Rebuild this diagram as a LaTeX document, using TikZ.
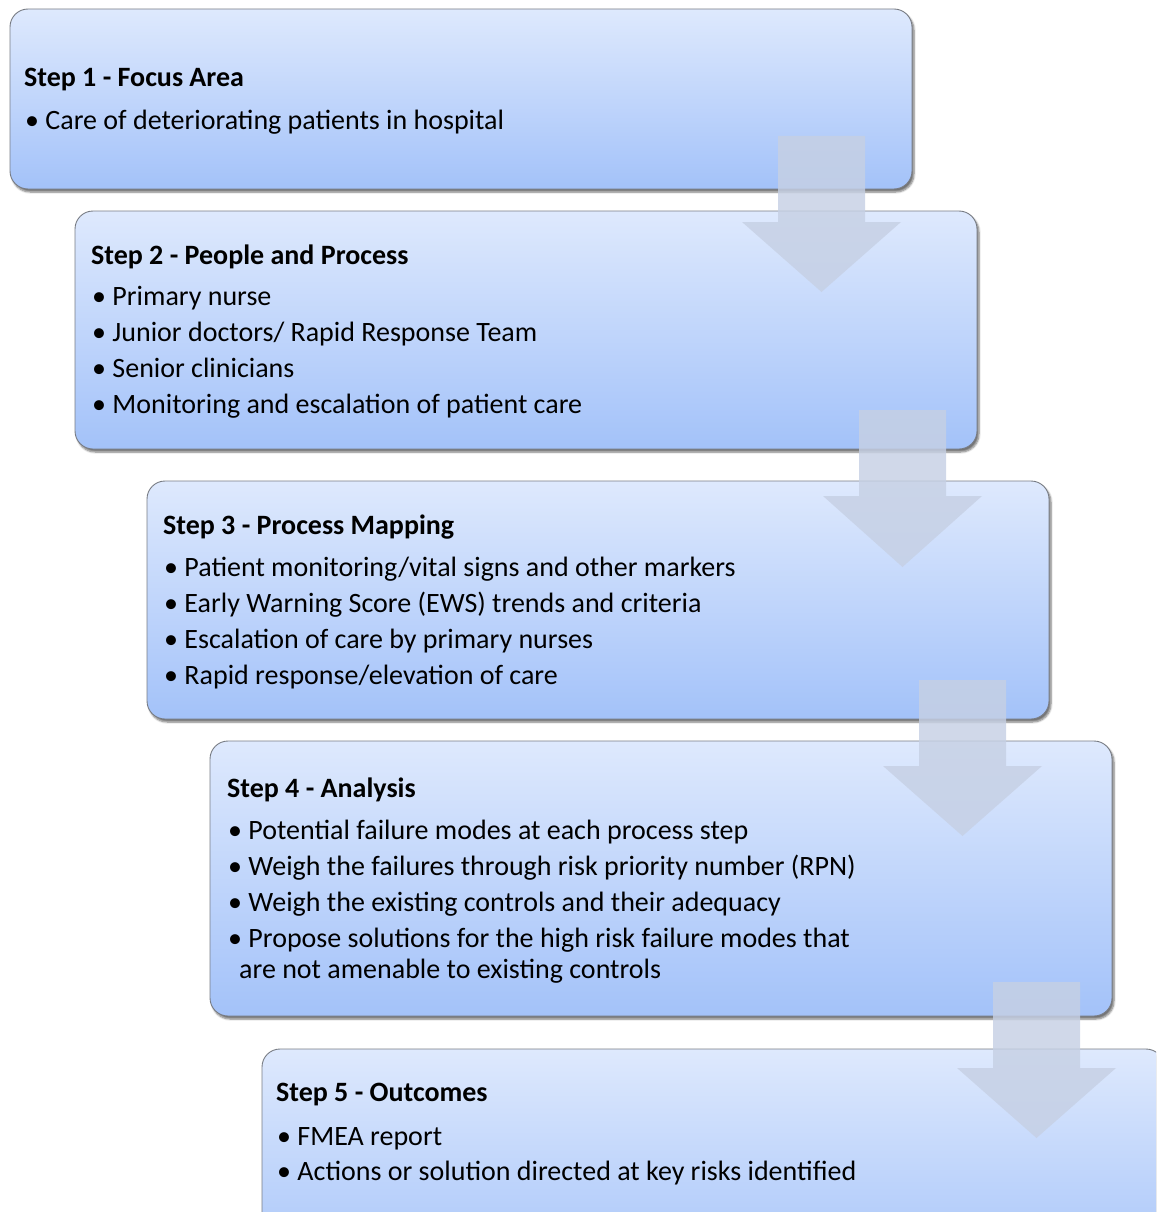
\documentclass[tikz,border=0pt]{standalone}
\usepackage{fontspec}
\setmainfont{Carlito}
\usetikzlibrary{shadows.blur}
\definecolor{boxtop}{RGB}{222,233,253}
\definecolor{boxbot}{RGB}{163,194,249}
\definecolor{boxline}{RGB}{120,124,132}
\definecolor{arrowfill}{RGB}{198,208,228}
\tikzset{
  stepbox/.style={draw=boxline, line width=0.9pt, rounded corners=18pt,
    top color=boxtop, bottom color=boxbot,
    blur shadow={shadow xshift=2pt, shadow yshift=-3pt, shadow blur steps=6,
      shadow blur extra rounding=2pt, shadow opacity=55}},
  flowarrow/.style={fill=arrowfill, fill opacity=0.82, draw=none},
  head/.style={anchor=base west, inner sep=0pt, font=\fontsize{28}{33}\selectfont\bfseries},
  item/.style={anchor=base west, inner sep=0pt, font=\fontsize{28}{33}\selectfont, align=left}
}
\newcommand{\blockarrow}[7]{%
  % #1 shaft left, #2 shaft right, #3 shaft top, #4 head y, #5 head left, #6 head right, #7 tip y
  \fill[flowarrow] (#1,#3) -- (#2,#3) -- (#2,#4) -- (#6,#4)
    -- ({(#5+#6)/2},#7) -- (#5,#4) -- (#1,#4) -- cycle;}
\begin{document}
\begin{tikzpicture}[x=1pt,y=-1pt]
\useasboundingbox (0,0) rectangle (1156,1212);
\clip (0,0) rectangle (1156,1212);

% step boxes
\path[stepbox] (10,9) rectangle (912,189);
\path[stepbox] (75,211) rectangle (977,449);
\path[stepbox] (147,481) rectangle (1049,719);
\path[stepbox] (210,741) rectangle (1112,1016);
\path[stepbox] (262,1049) rectangle (1164,1290);

% flow arrows between the steps
\blockarrow{778}{865}{136}{222}{742}{901}{292}
\blockarrow{859}{946}{410}{496}{823}{982}{567}
\blockarrow{919}{1006}{680}{766}{883}{1042}{836}
\blockarrow{993}{1080}{982}{1068}{957}{1116}{1138}

% Step 1
\node[head] (h1) at (24,87) {Step 1 - Focus Area};
\node[item] (a1) at (25,129) {• Care of deteriorating patients in hospital};

% Step 2
\node[head] (h2) at (91,264) {Step 2 - People and Process};
\node[item] (b1) at (92,305) {• Primary nurse};
\node[item] (b2) at (92,341) {• Junior doctors/ Rapid Response Team};
\node[item] (b3) at (92,377) {• Senior clinicians};
\node[item] (b4) at (92,413) {• Monitoring and escalation of patient care};

% Step 3
\node[head] (h3) at (163,534) {Step 3 - Process Mapping};
\node[item] (c1) at (164,576) {• Patient monitoring/vital signs and other markers};
\node[item] (c2) at (164,612) {• Early Warning Score (EWS) trends and criteria};
\node[item] (c3) at (164,648) {• Escalation of care by primary nurses};
\node[item] (c4) at (164,684) {• Rapid response/elevation of care};

% Step 4
\node[head] (h4) at (227,797) {Step 4 - Analysis};
\node[item] (d1) at (228,839) {• Potential failure modes at each process step};
\node[item] (d2) at (228,875) {• Weigh the failures through risk priority number (RPN)};
\node[item] (d3) at (228,911) {• Weigh the existing controls and their adequacy};
\node[item] (d4) at (228,947) {• Propose solutions for the high risk failure modes that};
\node[item] (d5) at (239,978) {are not amenable to existing controls};

% Step 5
\node[head] (h5) at (276,1101) {Step 5 - Outcomes};
\node[item] (e1) at (277,1145) {• FMEA report};
\node[item] (e2) at (277,1180) {• Actions or solution directed at key risks identified};
\end{tikzpicture}
\end{document}
